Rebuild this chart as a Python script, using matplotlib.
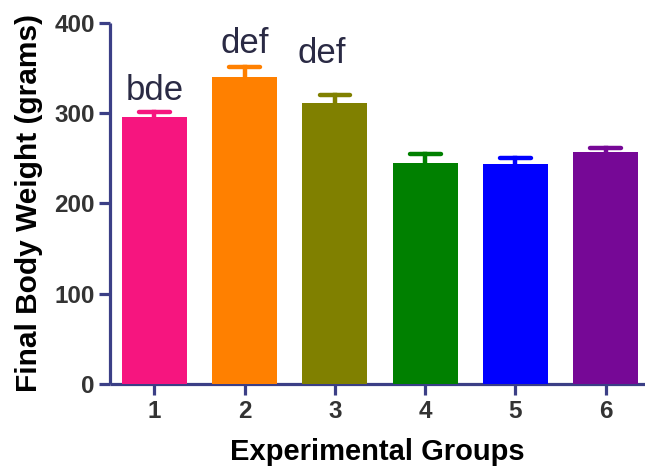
import numpy as np
import matplotlib.pyplot as plt

plt.rcParams['font.family'] = ['Liberation Sans', 'DejaVu Sans']

# group means and errors (grams)
groups = ['1', '2', '3', '4', '5', '6']
weights = [295.4, 340.3, 311.5, 245.1, 243.4, 257.3]
errors = [6.0, 11.0, 8.5, 9.7, 6.6, 3.7]
letters = ['bde', 'def', 'def', '', '', '']
colors = ['#F6157F', '#FF8000', '#808000', '#008000', '#0000FF', '#760896']

axis_col = '#3B3F86'

fig = plt.figure(figsize=(6.45, 4.69), dpi=100)
ax = fig.add_axes([0.1705, 0.1806, 0.8295, 0.771])

x = np.arange(1, len(groups) + 1)
ax.bar(x, weights, width=0.72, color=colors, zorder=3)

# upward error bars with rounded caps
for xi, w, e, c in zip(x, weights, errors, colors):
    ax.plot([xi, xi], [w, w + e], color=c, lw=3.2, zorder=2)
    ax.plot([xi - 0.17, xi + 0.17], [w + e, w + e], color=c, lw=3.2,
            solid_capstyle='round', zorder=2)

# significance letters
offsets = [13, 15, 35]
shifts = [0, 0, -0.15]
for xi, w, e, lab, off, sh in zip(x, weights, errors, letters, offsets, shifts):
    if lab:
        ax.text(xi + sh, w + e + off, lab, ha='center', va='baseline',
                fontsize=25, color='#2A2A44')

ax.set_xlim(0.509, 6.435)
ax.set_ylim(0, 400)
ax.set_xticks(x)
ax.set_xticklabels(groups)
ax.set_yticks([0, 100, 200, 300, 400])

for side in ['top', 'right']:
    ax.spines[side].set_visible(False)
for side in ['left', 'bottom']:
    ax.spines[side].set_color(axis_col)
    ax.spines[side].set_linewidth(2.3)
    ax.spines[side].set_capstyle('butt')

ax.tick_params(axis='both', direction='out', length=8, width=2.3,
               color=axis_col, labelsize=17.5, labelcolor='#333333', pad=3)
for lbl in ax.get_xticklabels() + ax.get_yticklabels():
    lbl.set_fontweight('bold')

ax.set_xlabel('Experimental Groups', fontsize=21, fontweight='bold',
              labelpad=11)
ax.set_ylabel('Final Body Weight (grams)', fontsize=21.5, fontweight='bold',
              labelpad=8)

fig.savefig('out.png', dpi=100)
